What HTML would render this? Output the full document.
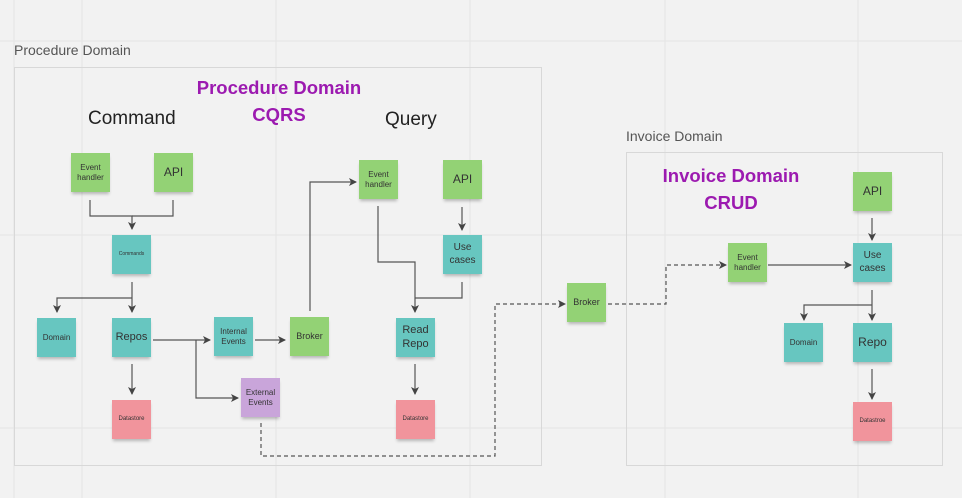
<!DOCTYPE html>
<html><head><style>
body{margin:0;width:962px;height:498px;overflow:hidden;background:#f2f2f2;font-family:"Liberation Sans",sans-serif;}
.n{position:absolute;width:39px;height:39px;display:flex;align-items:center;justify-content:center;text-align:center;color:#333;box-shadow:0 3px 3px -1px rgba(0,0,0,.25);line-height:1.25;}
.g{background:#93d275}.t{background:#67c6c0}.r{background:#f1949c}.p{background:#c9a5da}
.lbl{position:absolute;color:#555;font-size:14px}
.h{position:absolute;font-size:19px;color:#222}
.pt{position:absolute;color:#9c1ab0;font-weight:bold;font-size:18.5px;text-align:center;line-height:27px}
</style></head><body>
<svg width="962" height="498" style="position:absolute;left:0;top:0">
<g stroke="#e4e4e4" stroke-width="1">
<line x1="14" y1="0" x2="14" y2="498"/><line x1="82" y1="0" x2="82" y2="498"/><line x1="276" y1="0" x2="276" y2="498"/><line x1="470" y1="0" x2="470" y2="498"/><line x1="665" y1="0" x2="665" y2="498"/><line x1="858" y1="0" x2="858" y2="498"/>
<line x1="0" y1="41" x2="962" y2="41"/><line x1="0" y1="235" x2="962" y2="235"/><line x1="0" y1="428" x2="962" y2="428"/>
</g>
<rect x="14.5" y="67.5" width="527" height="398" fill="none" stroke="#d8d8d8"/>
<rect x="626.5" y="152.5" width="316" height="313" fill="none" stroke="#d8d8d8"/>
<defs><marker id="a" markerWidth="8" markerHeight="8" refX="7" refY="4" orient="auto" markerUnits="userSpaceOnUse"><path d="M0,0 L8,4 L0,8 L2,4z" fill="#444"/></marker></defs>
<g stroke="#555" stroke-width="1.2" fill="none">
<path d="M173,200 V216 H132"/>
<path d="M462,282 V298 H415"/>
</g>
<g stroke="#555" stroke-width="1.2" fill="none" marker-end="url(#a)">
<path d="M90,200 V216 H132 V229"/>
<path d="M132,282 V312"/><path d="M132,298 H57 V312"/>
<path d="M132,364 V394"/>
<path d="M153,340 H210"/><path d="M196,340 V398 H238"/>
<path d="M255,340 H285"/>
<path d="M310,311 V182 H356"/>
<path d="M378,206 V262 H415 V312"/>
<path d="M462,207 V230"/>
<path d="M415,364 V394"/>
<path d="M768,265 H851"/>
<path d="M872,218 V240"/>
<path d="M872,290 V320"/><path d="M872,305 H804 V320"/>
<path d="M872,369 V399"/>
</g>
<g stroke="#555" stroke-width="1.2" fill="none" stroke-dasharray="4,3" marker-end="url(#a)">
<path d="M261,423 V456 H495 V304 H565"/>
<path d="M608,304 H666 V265 H726"/>
</g>
</svg>
<div class="lbl" style="left:14px;top:42px">Procedure Domain</div>
<div class="lbl" style="left:626px;top:128px">Invoice Domain</div>
<div class="h" style="left:88px;top:108px">Command</div>
<div class="h" style="left:385px;top:109px">Query</div>
<div class="pt" style="left:178px;top:74px;width:202px">Procedure Domain<br>CQRS</div>
<div class="pt" style="left:638px;top:162px;width:186px">Invoice Domain<br>CRUD</div>

<div class="n g" style="left:71px;top:153px;font-size:8px">Event handler</div>
<div class="n g" style="left:154px;top:153px;font-size:12px">API</div>
<div class="n t" style="left:112px;top:235px;font-size:5px">Commands</div>
<div class="n t" style="left:37px;top:318px;font-size:8px">Domain</div>
<div class="n t" style="left:112px;top:318px;font-size:11px">Repos</div>
<div class="n r" style="left:112px;top:400px;font-size:6px">Datastore</div>
<div class="n t" style="left:214px;top:317px;font-size:8px">Internal Events</div>
<div class="n p" style="left:241px;top:378px;font-size:8px">External Events</div>
<div class="n g" style="left:290px;top:317px;font-size:9px">Broker</div>
<div class="n g" style="left:359px;top:160px;font-size:8px">Event handler</div>
<div class="n g" style="left:443px;top:160px;font-size:12px">API</div>
<div class="n t" style="left:443px;top:235px;font-size:10px">Use cases</div>
<div class="n t" style="left:396px;top:318px;font-size:11px">Read Repo</div>
<div class="n r" style="left:396px;top:400px;font-size:6px">Datastore</div>
<div class="n g" style="left:567px;top:283px;font-size:9px">Broker</div>
<div class="n g" style="left:728px;top:243px;font-size:8px">Event handler</div>
<div class="n g" style="left:853px;top:172px;font-size:12px">API</div>
<div class="n t" style="left:853px;top:243px;font-size:10px">Use cases</div>
<div class="n t" style="left:784px;top:323px;font-size:8px">Domain</div>
<div class="n t" style="left:853px;top:323px;font-size:12px">Repo</div>
<div class="n r" style="left:853px;top:402px;font-size:6px">Datastroe</div>
</body></html>
